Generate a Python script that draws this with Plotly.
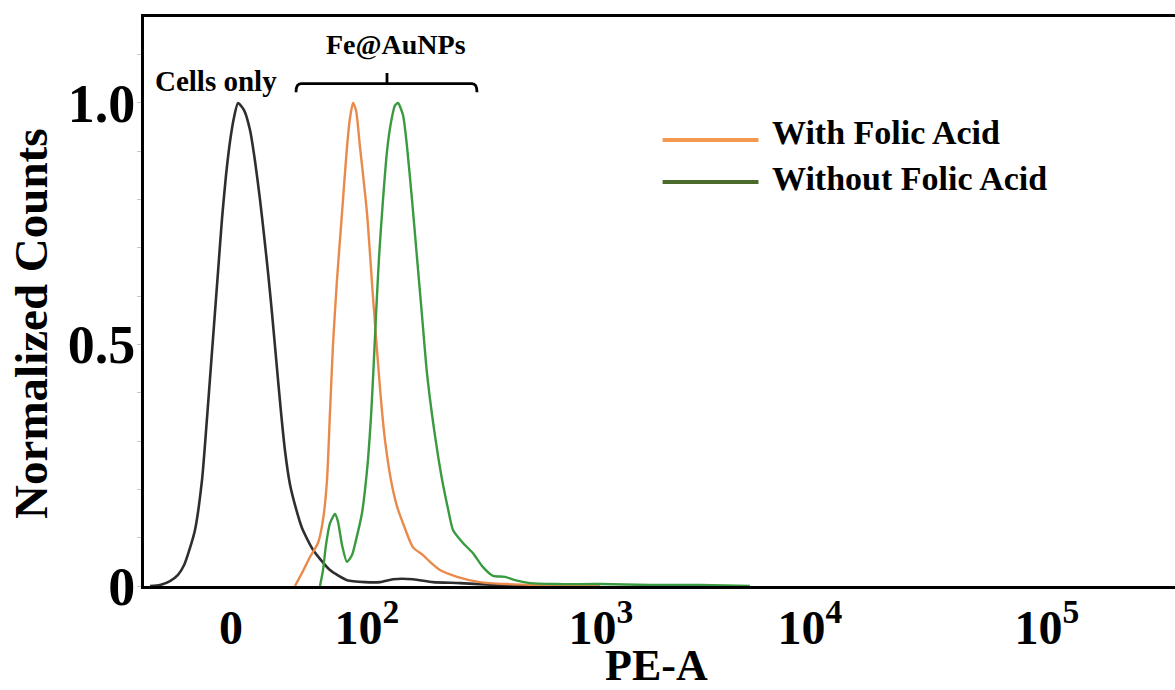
import plotly.graph_objects as go

# ---- data (x in display units of the biexponential PE-A scale) ----
tick_pos = [87, 223, 457, 666, 903]
tick_text = ["0", "10<sup>2</sup>", "10<sup>3</sup>", "10<sup>4</sup>", "10<sup>5</sup>"]

cells_x = [6, 16, 26, 34, 40, 46, 51, 58, 62, 66, 70, 74, 78, 82, 86, 90, 94, 100, 106, 111,
           116, 120, 124, 128, 133, 137, 141, 146, 152, 158, 169, 186, 203, 221, 236, 249, 269,
           289, 316, 353, 396]
cells_y = [0.0, 0.002, 0.010, 0.023, 0.043, 0.079, 0.116, 0.219, 0.32, 0.43, 0.54, 0.65,
           0.76, 0.85, 0.92, 0.97, 1.0, 0.985, 0.944, 0.88, 0.80, 0.727, 0.65, 0.565,
           0.45, 0.36, 0.28, 0.21, 0.16, 0.12, 0.075, 0.033, 0.012, 0.008, 0.008, 0.014, 0.014,
           0.008, 0.006, 0.002, 0.0]

with_fa_x = [151, 159, 166, 174, 179, 183, 186, 189, 193, 198, 203, 206, 209, 212, 216, 223,
             229, 234, 237, 241, 247, 253, 259, 269, 279, 286, 296, 313, 336, 363, 396, 456]
with_fa_y = [0.0, 0.031, 0.060, 0.089, 0.137, 0.219, 0.36, 0.50, 0.634, 0.772, 0.909, 0.969,
             1.0, 0.985, 0.909, 0.772, 0.598, 0.462, 0.385, 0.302, 0.219, 0.165, 0.130, 0.080,
             0.064, 0.050, 0.033, 0.019, 0.008, 0.004, 0.002, 0.0]

without_fa_x = [176, 179, 182, 186, 191, 194, 198, 203, 208, 212, 218, 221, 224, 227, 229.5,
                232, 235, 239, 243, 247, 251, 254, 259, 263, 268, 273, 278, 283, 289, 294, 299,
                304, 309, 319, 329, 339, 349, 361, 371, 386, 411, 456, 506, 556, 606]
without_fa_y = [0.0, 0.033, 0.085, 0.130, 0.149, 0.133, 0.085, 0.050, 0.064, 0.095, 0.151,
                0.199, 0.261, 0.35, 0.45, 0.56, 0.68, 0.80, 0.90, 0.96, 0.995, 1.0, 0.975,
                0.91, 0.80, 0.68, 0.56, 0.44, 0.34, 0.27, 0.21, 0.16, 0.116, 0.089, 0.068, 0.039,
                0.021, 0.019, 0.012, 0.006, 0.004, 0.004, 0.002, 0.002, 0.0]

legend_names = ["With Folic Acid", "Without Folic Acid"]
legend_colors = ["#F2994F", "#4B6B2C"]

FONT = "Liberation Serif"

fig = go.Figure()
fig.add_trace(go.Scatter(x=cells_x, y=cells_y, mode="lines", name="Cells only",
                         line=dict(color="#2E2E2E", width=2.6, shape="spline", smoothing=0.6),
                         showlegend=False))
fig.add_trace(go.Scatter(x=with_fa_x, y=with_fa_y, mode="lines", name=legend_names[0],
                         line=dict(color="#E98A4B", width=2.4, shape="spline", smoothing=0.6),
                         showlegend=False))
fig.add_trace(go.Scatter(x=without_fa_x, y=without_fa_y, mode="lines", name=legend_names[1],
                         line=dict(color="#3A9A3F", width=2.4, shape="spline", smoothing=0.6),
                         showlegend=False))

# custom legend
legend_y = [0.784, 0.710]
text_y = [0.797, 0.717]
for name, col, ly, ty in zip(legend_names, legend_colors, legend_y, text_y):
    fig.add_shape(type="line", xref="paper", yref="paper", x0=0.503, x1=0.596, y0=ly, y1=ly,
                  line=dict(color=col, width=4))
    fig.add_annotation(xref="paper", yref="paper", x=0.607, y=ty, xanchor="left", yanchor="middle",
                       text="<b>%s</b>" % name, showarrow=False,
                       font=dict(family=FONT, size=34, color="black"))

# annotations: Cells only, Fe@AuNPs with bracket
fig.add_annotation(x=72, y=1.045, xref="x", yref="y", text="<b>Cells only</b>", showarrow=False,
                   font=dict(family=FONT, size=29, color="black"))
fig.add_annotation(x=252, y=1.122, xref="x", yref="y", text="<b>Fe@AuNPs</b>", showarrow=False,
                   font=dict(family=FONT, size=28, color="black"))
fig.add_shape(type="path", xref="x", yref="y",
              path="M 152,1.022 Q 152,1.040 157,1.040 L 328,1.040 Q 333,1.040 333,1.022 "
                   "M 243,1.040 L 243,1.062",
              line=dict(color="black", width=2.8))

# axis titles as annotations
fig.add_annotation(xref="paper", yref="paper", x=-0.109, y=0.46, text="<b>Normalized Counts</b>",
                   textangle=-90, showarrow=False, xanchor="center", yanchor="middle",
                   font=dict(family=FONT, size=47, color="black"))
fig.add_annotation(xref="paper", yref="paper", x=0.497, y=-0.139, text="<b>PE-A</b>",
                   showarrow=False, xanchor="center", yanchor="middle",
                   font=dict(family=FONT, size=44, color="black"))

fig.update_layout(
    width=1175, height=690,
    margin=dict(l=144, r=0, t=17, b=104),
    paper_bgcolor="white", plot_bgcolor="white",
    font=dict(family=FONT, color="black"),
    xaxis=dict(range=[0, 1031], showgrid=False, zeroline=False, automargin=False,
               showline=True, linecolor="black", linewidth=3, mirror=True,
               tickvals=tick_pos, ticktext=["<b>%s</b>" % t for t in tick_text],
               ticks="", ticklabelstandoff=-3,
               tickfont=dict(family=FONT, size=48, color="black")),
    yaxis=dict(range=[0, 1.178], showgrid=False, zeroline=False, automargin=False,
               showline=True, linecolor="black", linewidth=3, mirror=False,
               tickvals=[0, 0.5, 1.0], ticktext=["<b>0</b>", "<b>0.5</b>", "<b>1.0</b>"],
               ticks="outside", ticklen=4, tickcolor="#c8c8c8", tickwidth=1,
               ticklabelstandoff=-9,
               minor=dict(dtick=0.1, tick0=0, ticks="outside", ticklen=4, tickcolor="#c8c8c8"),
               tickfont=dict(family=FONT, size=54, color="black")),
)

fig.write_html("out.html")
